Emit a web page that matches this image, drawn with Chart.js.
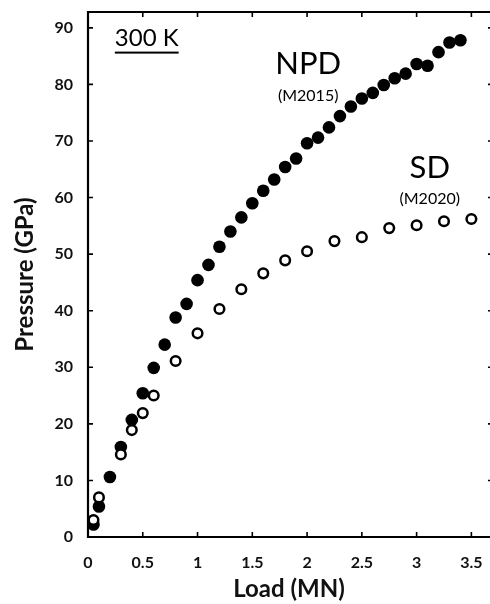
<!DOCTYPE html>
<html>
<head>
<meta charset="utf-8">
<script src="https://cdn.jsdelivr.net/npm/chart.js@4/dist/chart.umd.min.js"></script>
<style>
  html, body { margin: 0; padding: 0; background: #fff; overflow: hidden; }
  canvas { display: block; }
</style>
</head>
<body>
<canvas id="chart" width="490" height="604"></canvas>
<script>
// NPD (M2015) - filled circles
const loadNPD = [0.05, 0.1, 0.2, 0.3, 0.4, 0.5, 0.6, 0.7, 0.8, 0.9, 1.0, 1.1, 1.2, 1.3, 1.4, 1.5, 1.6, 1.7, 1.8, 1.9,
                 2.0, 2.1, 2.2, 2.3, 2.4, 2.5, 2.6, 2.7, 2.8, 2.9, 3.0, 3.1, 3.2, 3.3, 3.4];
const pressureNPD = [2.2, 5.4, 10.6, 15.9, 20.7, 25.4, 29.9, 34.0, 38.8, 41.2, 45.4, 48.1, 51.3, 54.0, 56.5, 59.0, 61.2, 63.2, 65.4, 66.9,
                     69.6, 70.6, 72.4, 74.4, 76.1, 77.5, 78.5, 79.9, 81.1, 81.9, 83.6, 83.3, 85.7, 87.4, 87.8];

// SD (M2020) - open circles
const loadSD = [0.05, 0.1, 0.3, 0.4, 0.5, 0.6, 0.8, 1.0, 1.2, 1.4, 1.6, 1.8, 2.0, 2.25, 2.5, 2.75, 3.0, 3.25, 3.5];
const pressureSD = [3.0, 7.0, 14.6, 18.9, 21.9, 25.0, 31.1, 36.0, 40.3, 43.8, 46.6, 48.9, 50.5, 52.3, 53.0, 54.6, 55.1, 55.8, 56.2];

const xRange = [0, 3.67];
const yRange = [0, 92.8];

const toPoints = (xs, ys) => xs.map((x, i) => ({ x, y: ys[i] }));

// no extra room for edge labels: plot area is set by the fixed scale sizes
const noPad = s => { s.paddingTop = 0; s.paddingBottom = 0; s.paddingLeft = 0; s.paddingRight = 0; };

// frame with inward ticks on all sides (right edge runs off the picture)
const framePlugin = {
    id: 'frame',
    beforeDatasetsDraw(chart) {
        const { ctx, chartArea: a, scales: { x, y } } = chart;
        ctx.save();
        ctx.strokeStyle = '#000';
        ctx.lineWidth = 2.2;
        ctx.beginPath();
        ctx.moveTo(a.right + 5, a.top);
        ctx.lineTo(a.left, a.top);
        ctx.lineTo(a.left, a.bottom);
        ctx.lineTo(a.right + 5, a.bottom);
        ctx.stroke();
        ctx.lineWidth = 1.6;
        ctx.beginPath();
        x.ticks.forEach(t => {
            const px = x.getPixelForValue(t.value);
            ctx.moveTo(px, a.bottom); ctx.lineTo(px, a.bottom - 5);
            ctx.moveTo(px, a.top); ctx.lineTo(px, a.top + 5);
        });
        y.ticks.forEach(t => {
            const py = y.getPixelForValue(t.value);
            ctx.moveTo(a.left, py); ctx.lineTo(a.left + 5, py);
            ctx.moveTo(a.right + 2, py); ctx.lineTo(a.right - 2, py);
        });
        ctx.stroke();
        ctx.restore();
    }
};

// labels inside the plot
const labelPlugin = {
    id: 'labels',
    afterDraw(chart) {
        const { ctx, scales: { x, y } } = chart;
        const put = (text, vx, vy, font, align) => {
            ctx.font = font;
            ctx.textAlign = align;
            ctx.textBaseline = 'middle';
            ctx.fillText(text, x.getPixelForValue(vx), y.getPixelForValue(vy));
        };
        ctx.save();
        ctx.fillStyle = '#000';
        put('300 K', 0.245, 88.2, '24px Lato', 'left');
        const w = ctx.measureText('300 K').width;
        const ux = x.getPixelForValue(0.245), uy = y.getPixelForValue(85.8);
        ctx.fillRect(ux, uy, w, 2);
        put('NPD', 2.01, 83.6, '31px Lato', 'center');
        put('(M2015)', 2.01, 78.0, '16px Lato', 'center');
        put('SD', 3.12, 65.3, '31px Lato', 'center');
        put('(M2020)', 3.12, 59.8, '16px Lato', 'center');
        ctx.restore();
    }
};

new Chart(document.getElementById('chart').getContext('2d'), {
    type: 'scatter',
    data: {
        datasets: [{
            label: 'SD (M2020)',
            data: toPoints(loadSD, pressureSD),
            pointRadius: 4.8,
            pointHoverRadius: 4.8,
            pointBorderWidth: 2.5,
            borderColor: '#000',
            backgroundColor: '#fff',
            order: 0
        }, {
            label: 'NPD (M2015)',
            data: toPoints(loadNPD, pressureNPD),
            pointRadius: 6.3,
            pointHoverRadius: 6.3,
            pointBorderWidth: 0,
            borderColor: '#000',
            backgroundColor: '#000',
            order: 1
        }]
    },
    options: {
        responsive: false,
        animation: false,
        devicePixelRatio: 1,
        layout: { autoPadding: false, padding: { top: 12, right: 0, bottom: 0, left: 0 } },
        plugins: { legend: { display: false }, tooltip: { enabled: false } },
        scales: {
            x: {
                type: 'linear',
                min: xRange[0],
                max: xRange[1],
                grid: { display: false, drawTicks: false },
                border: { display: false },
                ticks: {
                    stepSize: 0.5,
                    includeBounds: false,
                    padding: 16,
                    color: '#111',
                    font: { family: 'Lato', size: 16, weight: 'bold' },
                    maxRotation: 0,
                    callback: v => String(+v.toFixed(1))
                },
                title: {
                    display: true,
                    text: 'Load (MN)',
                    color: '#111',
                    font: { family: 'Lato', size: 24, weight: 'bold' },
                    padding: { top: 0, bottom: 0 }
                },
                afterFit: s => { s.height = 67; noPad(s); }
            },
            y: {
                type: 'linear',
                min: yRange[0],
                max: yRange[1],
                grid: { display: false, drawTicks: false },
                border: { display: false },
                ticks: {
                    stepSize: 10,
                    includeBounds: false,
                    padding: 15,
                    color: '#111',
                    font: { family: 'Lato', size: 16, weight: 'bold' }
                },
                title: {
                    display: true,
                    text: 'Pressure (GPa)',
                    color: '#111',
                    font: { family: 'Lato', size: 24, weight: 'bold' },
                    padding: { top: 11, bottom: 0 }
                },
                afterFit: s => { s.width = 88; noPad(s); }
            }
        }
    },
    plugins: [framePlugin, labelPlugin]
});
</script>
</body>
</html>
